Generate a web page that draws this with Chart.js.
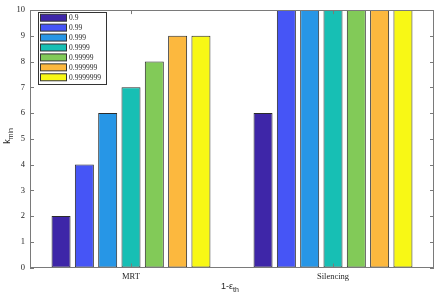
<!DOCTYPE html>
<html>
<head>
<meta charset="utf-8">
<script src="https://cdn.jsdelivr.net/npm/chart.js@4"></script>
<style>
  html, body { margin: 0; padding: 0; background: #fff; }
  #wrap { width: 436px; height: 299px; }
</style>
</head>
<body>
<div id="wrap"><canvas id="kminChart" width="436" height="299"></canvas></div>
<script>
// categories and series
const categories = ['MRT', 'Silencing'];
const thresholds = ['0.9', '0.99', '0.999', '0.9999', '0.99999', '0.999999', '0.9999999'];
const mrtValues = [2, 4, 6, 7, 8, 9, 9];
const silencingValues = [6, 10, 10, 10, 10, 10, 10];
const yTicks = [0, 1, 2, 3, 4, 5, 6, 7, 8, 9, 10];

const barColors = ['#3e26a8', '#4655f6', '#2796e6', '#17bfb4', '#82ca58', '#fcb83e', '#f8f815'];
const serif = '"Liberation Serif", "DejaVu Serif", serif';
const axisColor = '#7a7a7a';

const datasets = thresholds.map((t, i) => ({
    label: t,
    data: [mrtValues[i], silencingValues[i]],
    backgroundColor: barColors[i],
    borderColor: '#2b2b2b',
    borderWidth: 1,
    borderSkipped: false,
    categoryPercentage: 0.808,
    barPercentage: 0.815
}));

// box, inward ticks, axis titles and legend, MATLAB style
const matlabDecor = {
    id: 'matlabDecor',
    afterDraw(chart) {
        const ctx = chart.ctx;
        const a = chart.chartArea;
        const xs = chart.scales.x;
        const ys = chart.scales.y;
        ctx.save();
        ctx.strokeStyle = axisColor;
        ctx.lineWidth = 1;
        ctx.strokeRect(Math.round(a.left) + 0.5, Math.round(a.top) + 0.5,
            Math.round(a.right - a.left) - 1, Math.round(a.bottom - a.top));
        ctx.beginPath();
        yTicks.forEach(v => {
            const y = Math.round(ys.getPixelForValue(v)) + 0.5;
            ctx.moveTo(a.left, y); ctx.lineTo(a.left + 4, y);
            ctx.moveTo(a.right, y); ctx.lineTo(a.right - 4, y);
        });
        categories.forEach((c, i) => {
            const x = Math.round(xs.getPixelForValue(i)) + 0.5;
            ctx.moveTo(x, a.bottom); ctx.lineTo(x, a.bottom - 4);
            ctx.moveTo(x, a.top); ctx.lineTo(x, a.top + 4);
        });
        ctx.stroke();

        // axis titles
        ctx.fillStyle = '#262626';
        ctx.textBaseline = 'alphabetic';
        ctx.font = '9px "Liberation Sans", sans-serif';
        const cx = (a.left + a.right) / 2;
        ctx.textAlign = 'left';
        const main = '1-\u03b5';
        const w = ctx.measureText(main).width;
        ctx.fillText(main, cx - 11, 289);
        ctx.font = '7px "Liberation Sans", sans-serif';
        ctx.fillText('th', cx - 11 + w, 292);

        ctx.save();
        ctx.translate(10, (a.top + a.bottom) / 2 + 5);
        ctx.rotate(-Math.PI / 2);
        ctx.font = '9px "Liberation Sans", sans-serif';
        ctx.fillText('k', 0, 0);
        const kw = ctx.measureText('k').width;
        ctx.font = '7px "Liberation Sans", sans-serif';
        ctx.fillText('min', kw, 3);
        ctx.restore();

        // legend box
        const lx = 38, ly = 12, lw = 68, lh = 72;
        ctx.fillStyle = '#ffffff';
        ctx.fillRect(lx, ly, lw, lh);
        ctx.strokeStyle = '#333333';
        ctx.strokeRect(lx + 0.5, ly + 0.5, lw, lh);
        ctx.font = '7.5px ' + serif;
        ctx.textBaseline = 'middle';
        chart.data.datasets.forEach((ds, i) => {
            const yc = 17.7 + i * 9.93;
            ctx.fillStyle = ds.backgroundColor;
            ctx.fillRect(40.5, yc - 3.5, 26, 7);
            ctx.strokeStyle = '#333333';
            ctx.strokeRect(40.5, yc - 3.5, 26, 7);
            ctx.fillStyle = '#262626';
            ctx.fillText(ds.label, 69, yc + 0.5);
        });
        ctx.restore();
    }
};

new Chart(document.getElementById('kminChart'), {
    type: 'bar',
    data: { labels: categories, datasets: datasets },
    options: {
        responsive: false,
        animation: false,
        layout: { padding: { left: 0, right: 2, top: 4, bottom: 0 } },
        plugins: {
            legend: { display: false },
            tooltip: { enabled: false }
        },
        scales: {
            x: {
                grid: { display: false, drawTicks: false },
                border: { display: false },
                ticks: { color: '#262626', font: { family: serif, size: 8.5 }, padding: 4 },
                afterFit: s => { s.height = 31.5; }
            },
            y: {
                min: 0,
                max: 10,
                grid: { display: false, drawTicks: false },
                border: { display: false },
                ticks: {
                    stepSize: 1,
                    color: '#262626',
                    font: { family: serif, size: 8.5 },
                    padding: 5
                },
                afterFit: s => { s.width = 30; }
            }
        }
    },
    plugins: [matlabDecor]
});
</script>
</body>
</html>
